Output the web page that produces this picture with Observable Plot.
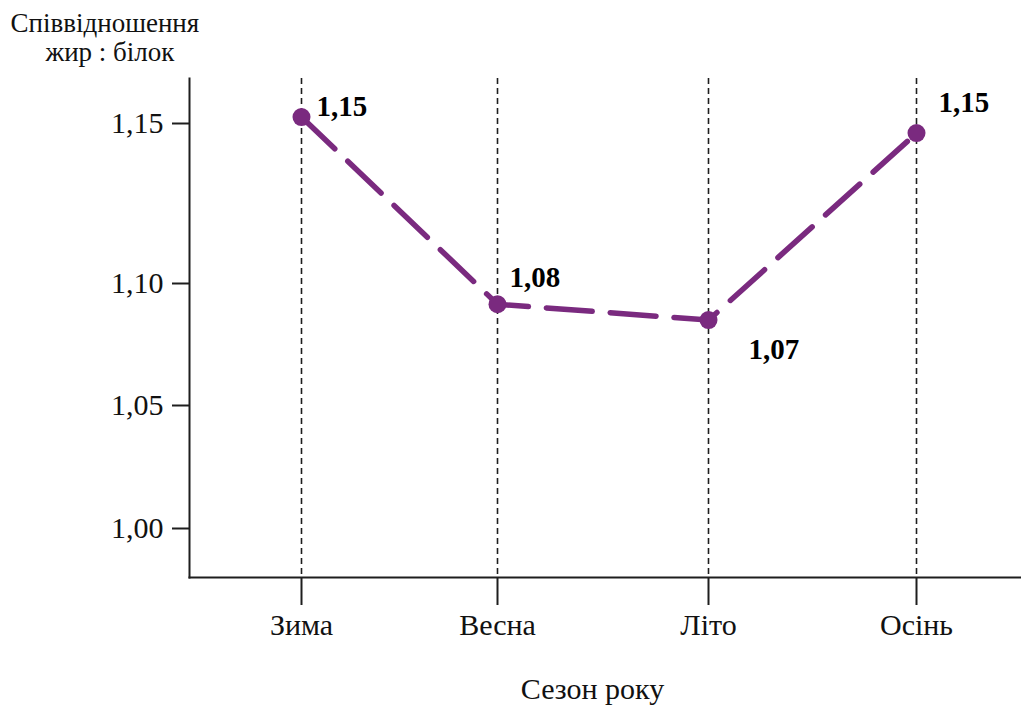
<!DOCTYPE html>
<html>
<head>
<meta charset="utf-8">
<script src="https://cdn.jsdelivr.net/npm/d3@7"></script>
<script src="https://cdn.jsdelivr.net/npm/@observablehq/plot@0.6"></script>
<style>
  html, body { margin: 0; padding: 0; background: #fff; }
  #chart svg, #chart svg text { font-family: "Liberation Serif", "Times New Roman", serif !important; }
</style>
</head>
<body>
<div id="chart"></div>
<script>
// Data
const seasons = ["Зима", "Весна", "Літо", "Осінь"];
const ratios = [1.152, 1.0915, 1.085, 1.147];           // plotted positions
const valueLabels = ["1,15", "1,08", "1,07", "1,15"];    // printed values
const yTicks = [1.00, 1.05, 1.10, 1.15];
const yTitleLines = ["Співвідношення", "жир : білок"];
const xTitle = "Сезон року";

const data = seasons.map((s, i) => ({season: s, idx: i, value: ratios[i], label: valueLabels[i]}));

const purple = "#7a2a7f";
const ink = "#1e1e1e";
const serif = "Liberation Serif";
const labelOffsets = [[15, -10], [12, -27], [40, 30], [22, -30]];

const chart = Plot.plot({
  width: 1021,
  height: 707,
  marginLeft: 189,
  marginRight: 0,
  marginTop: 78,
  marginBottom: 130,
  style: {fontFamily: serif, fontSize: "30px", color: "#111", background: "#fff"},
  x: {
    type: "linear",
    domain: [-0.55, 0, 1, 2, 3, 3.5],
    range: [189, 301, 497, 708, 916, 1021],
    label: null
  },
  y: {
    type: "linear",
    domain: [0.98, 1.00, 1.05, 1.10, 1.15, 1.164],
    range: [577, 528, 405, 283, 123, 78],
    label: null
  },
  marks: [
    Plot.ruleX(data, {x: "idx", stroke: ink, strokeWidth: 1.6, strokeDasharray: "6,4"}),
    Plot.frame({anchor: "left", stroke: ink, strokeWidth: 2}),
    Plot.frame({anchor: "bottom", stroke: ink, strokeWidth: 2}),
    Plot.axisY({ticks: yTicks, tickSize: 17, tickPadding: 9, tickFormat: d => d.toFixed(2).replace(".", ","), label: null, stroke: ink, strokeWidth: 2, fontSize: 30, fontFamily: serif}),
    Plot.axisX({ticks: data.map(d => d.idx), tickFormat: i => seasons[i], tickSize: 28, tickPadding: 8, label: null, stroke: ink, strokeWidth: 2, fontSize: 30, fontFamily: serif}),
    Plot.line(data, {x: "idx", y: "value", stroke: purple, strokeWidth: 5.5, strokeDasharray: "46,18"}),
    Plot.dot(data, {x: "idx", y: "value", r: 9, fill: purple}),
    ...data.map((d, i) => Plot.text([d], {
      x: "idx", y: "value", text: "label",
      dx: labelOffsets[i][0], dy: labelOffsets[i][1],
      textAnchor: "start", lineAnchor: "middle",
      fontWeight: "bold", fontSize: 29, fontFamily: serif, fill: "#000"
    })),
    Plot.text([yTitleLines[0]], {frameAnchor: "top-left", text: d => d, textAnchor: "start", lineAnchor: "middle", dx: -179, dy: -55.6, fontSize: 27, fontFamily: serif, fill: "#111"}),
    Plot.text([yTitleLines[1]], {frameAnchor: "top-left", text: d => d, textAnchor: "start", lineAnchor: "middle", dx: -144, dy: -26.6, fontSize: 27, fontFamily: serif, fill: "#111"}),
    Plot.text([xTitle], {frameAnchor: "bottom", text: d => d, textAnchor: "middle", lineAnchor: "middle", dx: -13, dy: 112, fontSize: 30, fontFamily: serif, fill: "#111"})
  ]
});
document.getElementById("chart").append(chart);
</script>
</body>
</html>
